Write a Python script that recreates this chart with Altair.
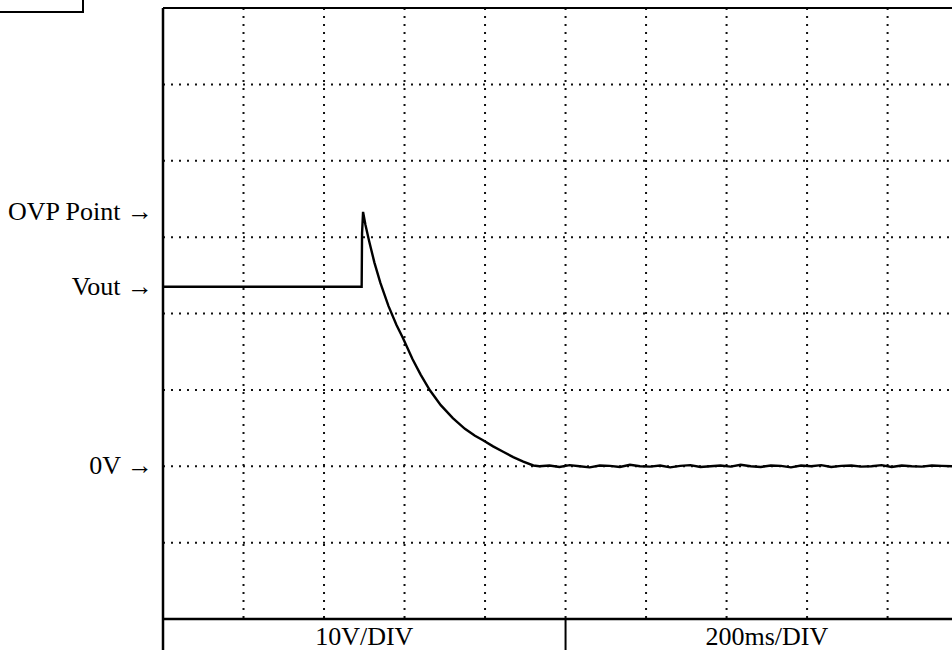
import altair as alt
import pandas as pd

# ---- data ----
trace_t = [0, 493.5, 494.5, 497, 503, 512, 525, 540, 560, 580, 596, 620, 640, 663,
           690, 720, 750, 775, 795, 820, 845, 870, 895, 920, 935]
trace_v = [23.5, 23.5, 30.5, 33.3, 31.6, 29.5, 26.7, 24.0, 21.0, 18.5, 16.8, 14.0, 12.0, 9.95,
           8.0, 6.3, 4.9, 4.0, 3.4, 2.6, 1.9, 1.2, 0.6, 0.1, 0.0]
flat_t = [960, 985, 1010, 1035, 1060, 1085, 1110, 1135, 1160, 1185, 1210, 1235, 1260, 1285,
          1310, 1335, 1360, 1385, 1410, 1435, 1460, 1485, 1510, 1535, 1560, 1585, 1610, 1635,
          1660, 1685, 1710, 1735, 1760, 1785, 1810, 1835, 1860, 1885, 1910, 1935, 1960]
flat_v = [0.1, -0.1, 0.15, 0.0, -0.15, 0.1, 0.05, -0.1, 0.2, 0.0,
          -0.05, 0.1, -0.15, 0.05, 0.15, -0.1, 0.0, 0.1, -0.05, 0.2,
          0.0, -0.1, 0.1, 0.05, -0.15, 0.1, 0.0, 0.15, -0.1, 0.05,
          0.1, -0.05, 0.0, 0.15, -0.1, 0.1, 0.0, -0.05, 0.1, 0.05, 0.0]

vgrid_t = [200, 400, 600, 800, 1000, 1200, 1400, 1600, 1800]
hgrid_v = [-10, 0, 10, 20, 30, 40, 50]

label_text = ["OVP Point \u2192", "Vout \u2192", "0V \u2192"]
label_v = [33.3, 23.5, 0]

bar_text = ["10V/DIV", "200ms/DIV"]
bar_t = [500, 1500]
divider_t = [1000]

W, H = 789, 611
FONT = "Liberation Serif"

xs = alt.Scale(domain=[0, 1960], nice=False, zero=False)
ys = alt.Scale(domain=[-20, 60], nice=False, zero=False)

trace = pd.DataFrame({"t": trace_t + flat_t, "v": trace_v + flat_v})
vgrid = pd.DataFrame({"t": vgrid_t})
hgrid = pd.DataFrame({"v": hgrid_v})
labels = pd.DataFrame({"label": label_text, "v": label_v})
bars = pd.DataFrame({"label": bar_text, "t": bar_t})
divider = pd.DataFrame({"t": divider_t})
one = pd.DataFrame({"k": [0]})

grid_style = dict(color="#111111", strokeWidth=2, strokeDash=[2, 6], strokeCap="butt")

vg = alt.Chart(vgrid).mark_rule(**grid_style).encode(
    x=alt.X("t:Q", scale=xs, axis=None),
    y=alt.value(0), y2=alt.value(H))
hg = alt.Chart(hgrid).mark_rule(**grid_style).encode(
    y=alt.Y("v:Q", scale=ys, axis=None),
    x=alt.value(0), x2=alt.value(W))

line = alt.Chart(trace).mark_line(color="black", strokeWidth=2.4).encode(
    x=alt.X("t:Q", scale=xs, axis=None),
    y=alt.Y("v:Q", scale=ys, axis=None),
    order="t:Q")

frame_left = alt.Chart(one).mark_rule(color="black", strokeWidth=2.5).encode(
    x=alt.value(0), y=alt.value(0), y2=alt.value(H + 40))
frame_top = alt.Chart(one).mark_rule(color="black", strokeWidth=2).encode(
    x=alt.value(0), x2=alt.value(W), y=alt.value(0))
frame_bar = alt.Chart(one).mark_rule(color="black", strokeWidth=2.5).encode(
    x=alt.value(0), x2=alt.value(W), y=alt.value(H))
div_rule = alt.Chart(divider).mark_rule(color="black", strokeWidth=2).encode(
    x=alt.X("t:Q", scale=xs, axis=None), y=alt.value(H), y2=alt.value(H + 40))

corner_box = alt.Chart(one).mark_rect(fill=None, stroke="black", strokeWidth=2).encode(
    x=alt.value(-175), x2=alt.value(-80), y=alt.value(-30), y2=alt.value(4))

ylabels = alt.Chart(labels).mark_text(
    align="right", baseline="middle", font=FONT, fontSize=26, color="black").encode(
    y=alt.Y("v:Q", scale=ys, axis=None), x=alt.value(-10), text="label:N")

btext = alt.Chart(bars).mark_text(
    align="center", baseline="alphabetic", font=FONT, fontSize=26, color="black").encode(
    x=alt.X("t:Q", scale=xs, axis=None), y=alt.value(H + 26), text="label:N")

chart = alt.layer(vg, hg, line, frame_left, frame_top, frame_bar, div_rule,
                  corner_box, ylabels, btext).properties(
    width=W, height=H,
    autosize=alt.AutoSizeParams(type="none"),
    padding={"left": 163, "top": 8, "right": 0, "bottom": 31},
    background="white",
).configure_view(stroke=None)

chart.save("out.html", embed_options={"renderer": "svg", "actions": False})
